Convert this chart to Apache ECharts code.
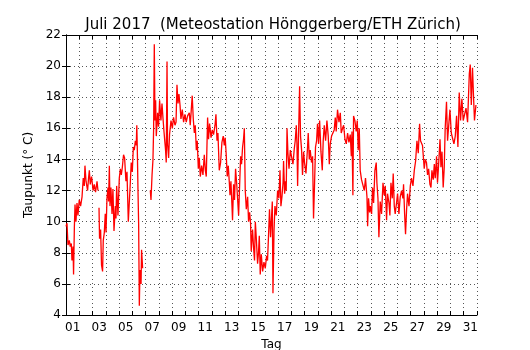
<!DOCTYPE html>
<html>
<head>
<meta charset="utf-8">
<script src="https://cdn.jsdelivr.net/npm/echarts@6/dist/echarts.min.js"></script>
<style>
  html, body { margin: 0; padding: 0; background: #fff; }
  #container { width: 530px; height: 350px; }
</style>
</head>
<body>
<div id="container"></div>
<script>
// Zeit in Tagen seit 1. Juli 00:00, null = Messluecke
var tage = [
  0.00, 0.075, 0.15, 0.25, 0.32, 0.40, 0.45, 0.53, 0.57, 0.63, 0.68, 0.75, 0.83, 0.90,
  1.00, 1.10, 1.21, 1.30, 1.38, 1.43, 1.51, 1.63, 1.70, 1.76, 1.83, 1.93,
  2.04, 2.13, 2.23, 2.34, 2.41, 2.45, 2.49, 2.53, 2.61, 2.68, 2.76, 2.81, 2.89, 2.96,
  3.02, 3.09, 3.17, 3.21, 3.27, 3.32, 3.39, 3.47, 3.54, 3.62, 3.72, 3.77, 3.82, 3.92,
  4.02, 4.10, 4.17, 4.25, 4.34, 4.42, 4.52, 4.60, 4.70, 4.85, 4.92,
  5.00, 5.08, 5.15, 5.23, 5.30, 5.34, 5.38, 5.43, 5.48, 5.53, 5.58, 5.66, 5.70, 5.78,
  6.00, 6.36, 6.41, 6.49, 6.56, 6.61, 6.66, 6.71, 6.76, 6.81, 6.91, 6.98,
  7.06, 7.16, 7.24, 7.32, 7.39, 7.47, 7.51, 7.56, 7.62, 7.66, 7.74, 7.81, 7.92,
  8.02, 8.11, 8.22, 8.30, 8.37, 8.45, 8.52, 8.60, 8.67, 8.77, 8.87, 8.97,
  9.07, 9.17, 9.30, 9.37, 9.45, 9.52, 9.60, 9.68, 9.75, 9.83, 9.90, 9.98,
  10.05, 10.13, 10.23, 10.33, 10.43, 10.51, 10.58, 10.68, 10.75, 10.83, 10.94,
  11.03, 11.13, 11.24, 11.31, 11.39, 11.46, 11.56, 11.66, 11.76, 11.86, 11.94,
  12.01, 12.09, 12.16, 12.24, 12.32, 12.37, 12.44, 12.52, 12.56, 12.64, 12.71, 12.79, 12.87, 12.94,
  13.02, 13.09, 13.17, 13.24, 13.32, 13.39, 13.45, 13.52, 13.60, 13.70, 13.77, 13.85, 13.92, 13.97,
  14.07, 14.15, 14.22, 14.28, 14.35, 14.45, 14.52, 14.58, 14.65, 14.73, 14.83, 14.93,
  15.03, 15.13, 15.20, 15.28, 15.35, 15.43, 15.51, 15.56, 15.61, 15.69, 15.76, 15.86, 15.96,
  16.06, 16.14, 16.21, 16.29, 16.37, 16.41, 16.49, 16.56, 16.61, 16.67, 16.74, 16.82, 16.92,
  17.01, 17.12, 17.22, 17.29, 17.37, 17.42, 17.47, 17.54, 17.62, 17.69, 17.77, 17.84, 17.92, 17.99,
  18.10, 18.22, 18.27, 18.35, 18.42, 18.52, 18.60, 18.67, 18.75, 18.82, 18.90, 18.97,
  19.05, 19.13, 19.23, 19.33, 19.40, 19.48, 19.58, 19.68, 19.78, 19.86, 19.93,
  20.03, 20.14, 20.23, 20.31, 20.38, 20.48, 20.59, 20.69, 20.76, 20.86, 20.94,
  21.04, 21.14, 21.24, 21.34, 21.44, 21.52, 21.57, 21.64, 21.69, 21.79, 21.89, 21.97,
  22.04, 22.12, 22.19, 22.29, 22.40, 22.50, 22.59, 22.70, 22.75, 22.82, 22.90, 22.95,
  23.05, 23.12, 23.20, 23.30, 23.40, 23.45, 23.53, 23.60, 23.70, 23.80, 23.91,
  24.00, 24.08, 24.18, 24.25, 24.36, 24.43, 24.51, 24.61, 24.68, 24.76, 24.83, 24.93,
  25.01, 25.11, 25.21, 25.31, 25.41, 25.46, 25.54, 25.61, 25.69, 25.76, 25.87, 25.97,
  26.06, 26.17, 26.27, 26.37, 26.47, 26.57, 26.67, 26.74, 26.89,
  27.02, 27.10, 27.19, 27.27, 27.35, 27.45, 27.53, 27.60, 27.70, 27.78, 27.85, 27.95,
  28.02, 28.10, 28.21, 28.28, 28.36, 28.45, 28.53, 28.60, 28.70, 28.78, 28.85, 28.96,
  29.06, 29.16, 29.26, 29.36, 29.46, 29.56, 29.66, 29.76, 29.86, 29.96,
  30.06, 30.17, 30.29, 30.42, 30.49, 30.57, 30.66, 30.74, 30.81, 30.92
];

// Taupunkt in Grad C
var taupunkt = [
  9.7, 9.9, 8.5, 8.8, 8.4, 8.6, 7.5, 8.4, 6.6, 9.6, 11.1, 10.0, 11.2, 10.4,
  11.4, 11.0, 11.6, 12.8, 12.3, 13.6, 12.6, 12.0, 12.8, 13.3, 12.4, 12.9,
  12.0, 12.4, 11.9, 12.6, 12.0, null, 10.9, 8.9, 9.5, 7.2, 6.8, 8.8, 9.3, 10.5,
  9.3, 11.5, 12.2, 11.3, 13.6, 11.0, 12.2, 10.5, 12.1, 9.4, 11.0, 10.2, 12.3, 10.4,
  12.8, 13.4, 13.0, 13.5, 14.3, 14.1, 12.6, 13.2, 10.0, 12.5, 13.8,
  13.2, 14.8, 14.6, 15.2, 14.9, 16.2, 14.6, 12.0, 9.8, 4.6, 6.9, 6.0, 8.2, 7.0,
  null, 12.0, 11.4, 13.0, 14.0, 16.0, 21.4, 16.5, 17.8, 15.5, 17.0, 16.1,
  17.8, 16.5, 17.6, 16.6, 15.8, 15.0, 14.6, 13.8, 20.3, 15.0, 14.1, 15.6, 16.5,
  16.0, 16.7, 16.2, 16.4, 18.8, 17.6, 18.2, 17.5, 16.6, 17.2, 16.4, 16.9,
  16.4, 16.8, 17.0, 16.2, 17.2, 18.1, 16.6, 15.7, 16.2, 14.6, 15.2, 13.4,
  14.1, 12.9, 13.6, 13.0, 14.3, 13.3, 12.9, 16.7, 15.3, 16.3, 15.4,
  15.9, 15.6, 16.2, 16.9, 15.2, 15.7, 13.3, 13.8, 15.1, 15.5, 14.9,
  15.4, 14.2, 12.9, 13.6, 12.5, 11.7, 12.6, 11.0, 10.1, 12.4, 11.4, 13.4, 12.5, 11.5,
  10.4, 12.2, 14.2, 13.7, 14.8, 15.3, 16.0, 12.0, 10.8, 11.6, 10.0, 10.6, 9.9, 8.1,
  9.5, 8.3, 7.5, 10.0, 9.0, 7.3, 8.0, 9.1, 6.6, 7.9, 6.8, 7.4,
  7.0, 7.8, 7.5, 9.2, 10.8, 9.0, 10.4, 11.3, 5.4, 9.4, 11.0, 10.4, 12.0,
  11.5, 13.3, 11.0, 11.6, 12.5, 13.9, 11.8, 12.6, 12.0, 16.0, 14.4, 13.4, 14.6,
  14.2, 13.7, 14.7, 15.2, 16.2, 15.0, 12.3, 15.5, 18.7, 15.5, 14.6, 13.0, 14.5, 13.8,
  13.1, 14.8, 15.7, 14.0, 14.6, 13.8, 14.2, 10.2, 12.5, 14.8, 15.2, 16.3,
  15.0, 16.5, 14.5, 13.3, 15.2, 16.2, 15.2, 16.5, 15.5, 13.7, 15.0,
  15.5, 15.4, 15.9, 16.7, 15.8, 17.2, 16.4, 17.0, 15.7, 16.0, 16.2,
  15.3, 15.0, 15.7, 15.1, 15.6, 14.2, 15.8, 11.7, 16.8, 16.5, 15.8, 16.5,
  14.6, 16.0, 13.3, 12.7, 12.8, 12.0, 12.8, 11.6, 9.7, 11.5, 10.6, 11.0,
  10.5, 12.2, 11.2, 13.3, 13.8, 12.5, 11.5, 9.0, 11.3, 10.5, 12.5,
  11.7, 12.3, 10.1, 11.8, 11.2, 10.4, 12.5, 11.5, 13.1, 11.0, 10.5, 11.2,
  11.8, 10.5, 11.6, 12.0, 11.5, 12.4, 10.5, 9.2, 10.8, 11.8, 11.0, 12.3,
  12.8, 12.3, 13.3, 13.9, 15.2, 14.4, 16.3, 15.2, 14.9,
  13.4, 14.0, 13.8, 13.0, 13.4, 12.4, 12.2, 13.3, 12.7, 13.7, 12.8, 14.2,
  12.5, 13.6, 15.3, 13.5, 14.5, 12.2, 13.5, 16.0, 17.7, 15.2, 16.0, 17.2,
  15.7, 15.7, 15.0, 15.5, 16.8, 14.8, 18.3, 16.5, 17.9, 16.5,
  16.6, 17.3, 16.4, 19.5, 20.1, 17.5, 19.9, 18.0, 16.5, 17.5
];

var tagLabels = ['01', '03', '05', '07', '09', '11', '13', '15', '17', '19', '21', '23', '25', '27', '29', '31'];

var schrift = 'DejaVu Sans';
var punkte = tage.map(function (t, i) { return [t, taupunkt[i]]; });

var myChart = echarts.init(document.getElementById('container'));

var tickStyle = { show: true, inside: true, length: 4, lineStyle: { color: '#000', width: 1 } };
var gitter = { show: true, lineStyle: { color: '#555', width: 1, type: [1, 3] } };
var rahmen = { show: true, lineStyle: { color: '#000', width: 1 } };

var option = {
  backgroundColor: '#fff',
  animation: false,
  title: {
    text: 'Juli 2017  (Meteostation Hönggerberg/ETH Zürich)',
    left: 268,
    top: 13,
    textAlign: 'center',
    textStyle: { fontFamily: schrift, fontSize: 15, fontWeight: 'normal', color: '#000' }
  },
  grid: { left: 66, right: 53, top: 35, bottom: 35, outerBoundsMode: 'none' },
  xAxis: [
    {
      type: 'value', min: 0, max: 31, interval: 1, position: 'bottom',
      axisLine: rahmen, axisTick: tickStyle, axisLabel: { show: false },
      splitLine: gitter
    },
    {
      type: 'value', min: 0, max: 31, interval: 1, position: 'top',
      axisLine: rahmen, axisTick: tickStyle, axisLabel: { show: false },
      splitLine: { show: false }
    },
    {
      // Beschriftung jeweils am Mittag jedes zweiten Tages
      type: 'value', min: -0.5, max: 30.5, interval: 0.5, position: 'bottom',
      axisLine: { show: false }, axisTick: { show: false }, splitLine: { show: false },
      name: 'Tag', nameLocation: 'middle', nameGap: 20,
      nameTextStyle: { fontFamily: schrift, fontSize: 12, color: '#000' },
      axisLabel: {
        margin: 7, fontFamily: schrift, fontSize: 12, color: '#000',
        formatter: function (v) {
          if (Math.abs(v - Math.round(v)) > 1e-6) return '';
          var k = Math.round(v);
          return k % 2 === 0 ? tagLabels[k / 2] : '';
        }
      }
    }
  ],
  yAxis: [
    {
      type: 'value', min: 4, max: 22, interval: 2, position: 'left',
      axisLine: rahmen, axisTick: tickStyle, splitLine: gitter,
      axisLabel: { margin: 5, fontFamily: schrift, fontSize: 12, color: '#000' },
      name: 'Taupunkt (° C)', nameLocation: 'middle', nameGap: 30,
      nameTextStyle: { fontFamily: schrift, fontSize: 12, color: '#000' }
    },
    {
      type: 'value', min: 4, max: 22, interval: 2, position: 'right',
      axisLine: rahmen, axisTick: tickStyle, axisLabel: { show: false },
      splitLine: { show: false }
    }
  ],
  series: [
    {
      type: 'line',
      xAxisIndex: 0,
      yAxisIndex: 0,
      data: punkte,
      showSymbol: false,
      connectNulls: false,
      lineStyle: { color: '#ff0000', width: 1.3 },
      itemStyle: { color: '#ff0000' }
    }
  ]
};

myChart.setOption(option);
</script>
</body>
</html>
